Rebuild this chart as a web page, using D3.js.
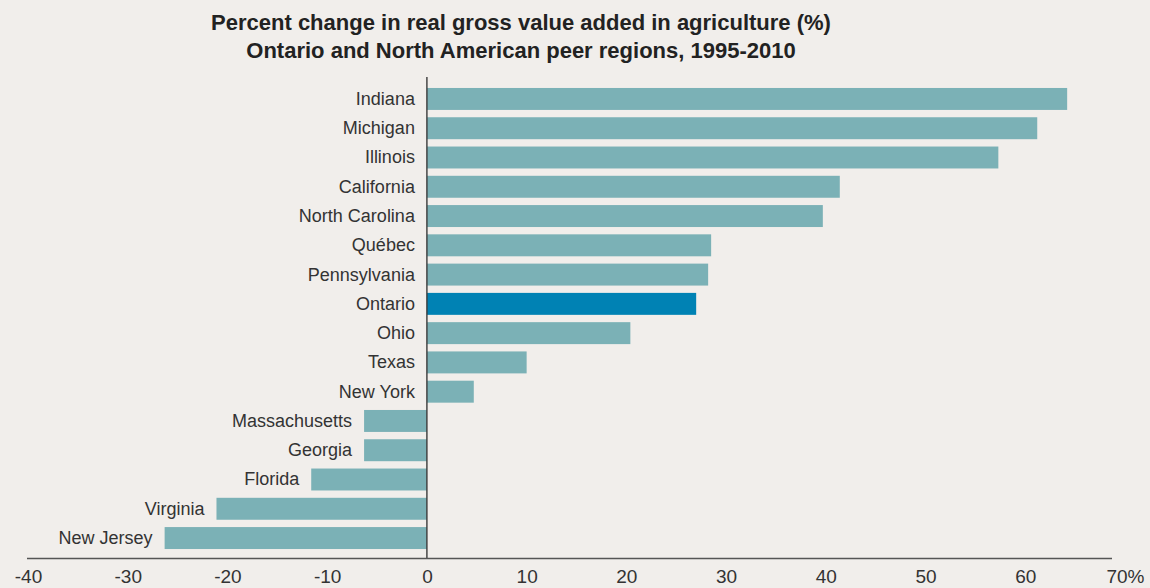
<!DOCTYPE html>
<html>
<head>
<meta charset="utf-8">
<script src="https://cdn.jsdelivr.net/npm/d3@7"></script>
<style>
  html, body { margin: 0; padding: 0; background: #f1eeeb; }
  svg { display: block; font-family: "Liberation Sans", Arial, sans-serif; }
</style>
</head>
<body>
<svg id="chart" width="1150" height="588"></svg>
<script>
// Percent change in real GVA in agriculture, 1995-2010
const regions = ["Indiana", "Michigan", "Illinois", "California", "North Carolina", "Québec",
  "Pennsylvania", "Ontario", "Ohio", "Texas", "New York", "Massachusetts", "Georgia",
  "Florida", "Virginia", "New Jersey"];
const changes = [64.2, 61.2, 57.3, 41.4, 39.7, 28.5, 28.2, 27.0, 20.4, 10.0, 4.7,
  -6.3, -6.3, -11.6, -21.1, -26.3];
const tickValues = [-40, -30, -20, -10, 0, 10, 20, 30, 40, 50, 60, 70];
const highlight = "Ontario";
const titleLines = [
  "Percent change in real gross value added in agriculture (%)",
  "Ontario and North American peer regions, 1995-2010"
];

const rows = regions.map((r, i) => ({ region: r, value: changes[i] }));

const svg = d3.select("#chart");

const x = d3.scaleLinear().domain([-40, 70]).range([28, 1125]);
const y = d3.scaleBand().domain(regions).range([77, 560]).paddingInner(0.25).paddingOuter(0.375);

// title
svg.append("g").selectAll("text").data(titleLines).join("text")
  .attr("x", 521)
  .attr("y", (d, i) => 29.5 + i * 28)
  .attr("text-anchor", "middle")
  .attr("font-size", 22)
  .attr("font-weight", "bold")
  .attr("fill", "#222")
  .text(d => d);

// bars
svg.append("g").selectAll("rect").data(rows).join("rect")
  .attr("x", d => x(Math.min(0, d.value)))
  .attr("width", d => Math.abs(x(d.value) - x(0)))
  .attr("y", d => y(d.region))
  .attr("height", y.bandwidth())
  .attr("fill", d => d.region === highlight ? "#0082b4" : "#7bb1b6");

// zero line
svg.append("line")
  .attr("x1", x(0)).attr("x2", x(0))
  .attr("y1", 77).attr("y2", 558.5)
  .attr("stroke", "#3a3a3a").attr("stroke-width", 1.4);

// category labels, placed just left of each bar's left end
svg.append("g").selectAll("text").data(rows).join("text")
  .attr("x", d => x(Math.min(0, d.value)) - 12)
  .attr("y", d => y(d.region) + y.bandwidth() / 2)
  .attr("dy", "0.33em")
  .attr("text-anchor", "end")
  .attr("font-size", 18)
  .attr("fill", "#333")
  .text(d => d.region);

// x axis baseline
svg.append("line")
  .attr("x1", 27).attr("x2", 1112)
  .attr("y1", 558.5).attr("y2", 558.5)
  .attr("stroke", "#555").attr("stroke-width", 1.3);

// x axis tick labels
const xAxis = d3.axisBottom(x)
  .tickValues(tickValues)
  .tickSize(0)
  .tickPadding(0)
  .tickFormat(d => d === 70 ? "70%" : String(d));

const gx = svg.append("g").attr("transform", "translate(0,568)").call(xAxis);
gx.select(".domain").remove();
gx.selectAll("text")
  .attr("font-family", "Liberation Sans, Arial, sans-serif")
  .attr("font-size", 19)
  .attr("fill", "#333")
  .attr("dy", "15px");
</script>
</body>
</html>
